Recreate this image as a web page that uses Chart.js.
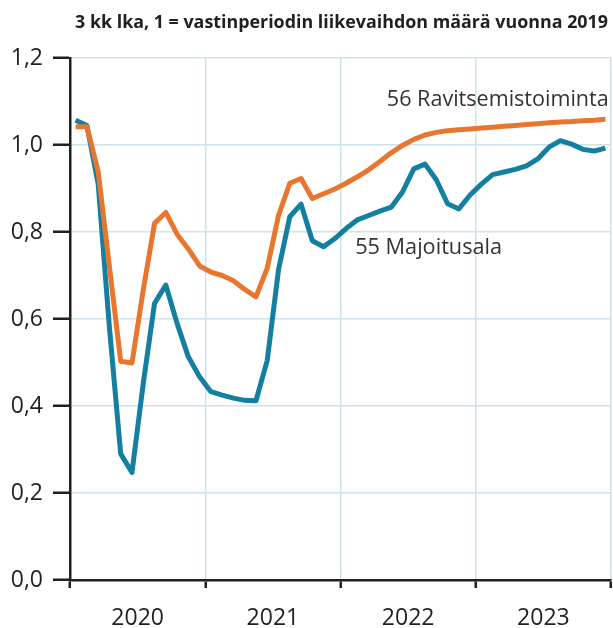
<!DOCTYPE html>
<html>
<head>
<meta charset="utf-8">
<script src="https://cdn.jsdelivr.net/npm/chart.js@4/dist/chart.umd.min.js"></script>
<style>
  html, body { margin: 0; padding: 0; background: #fff; }
  #wrap { width: 613px; height: 628px; position: relative; }
</style>
</head>
<body>
<div id="wrap"><canvas id="c" width="613" height="628"></canvas></div>
<script>
const titleText = "3 kk lka, 1 = vastinperiodin liikevaihdon määrä vuonna 2019";
const years = ["2020", "2021", "2022", "2023"];
const yTicks = [0, 0.2, 0.4, 0.6, 0.8, 1.0, 1.2];
const seriesNames = ["56 Ravitsemistoiminta", "55 Majoitusala"];

// Monthly values Jan 2020 – Dec 2023 (48 months)
const ravitsemis = [1.042, 1.042, 0.939, 0.720, 0.503, 0.499, 0.667, 0.820, 0.845, 0.795, 0.761, 0.722,
                    0.708, 0.700, 0.688, 0.668, 0.651, 0.717, 0.838, 0.912, 0.923, 0.877, 0.888, 0.899,
                    0.912, 0.927, 0.943, 0.962, 0.982, 0.999, 1.013, 1.023, 1.029, 1.033, 1.035, 1.037,
                    1.039, 1.041, 1.043, 1.045, 1.047, 1.049, 1.051, 1.053, 1.054, 1.056, 1.057, 1.059];
const majoitus   = [1.057, 1.045, 0.910, 0.580, 0.290, 0.247, 0.452, 0.636, 0.678, 0.590, 0.513, 0.467,
                    0.433, 0.425, 0.418, 0.413, 0.412, 0.505, 0.713, 0.835, 0.864, 0.780, 0.766, 0.785,
                    0.808, 0.828, 0.838, 0.848, 0.857, 0.892, 0.945, 0.956, 0.920, 0.865, 0.853, 0.885,
                    0.910, 0.932, 0.938, 0.944, 0.952, 0.968, 0.995, 1.010, 1.002, 0.990, 0.986, 0.993];

const toPoints = arr => arr.map((v, i) => ({ x: i + 0.5, y: v }));

const FONT = "'Open Sans', sans-serif";
const GRID = '#cde3ec';
const AXIS = '#231f20';
const TXT = '#231f20';

function fitFont(ctx, text, weight, target) {
  ctx.font = weight + " 20px " + FONT;
  const w = ctx.measureText(text).width;
  const size = 20 * target / w;
  ctx.font = weight + " " + size.toFixed(2) + "px " + FONT;
}

const overlay = {
  id: 'overlay',
  afterDraw(chart) {
    const { ctx, scales } = chart;
    ctx.save();
    ctx.fillStyle = TXT;
    ctx.textBaseline = 'middle';
    ctx.textAlign = 'right';
    fitFont(ctx, titleText, 'bold', 533);
    ctx.fillText(titleText, 608, 23);
    ctx.fillStyle = '#333';
    fitFont(ctx, seriesNames[0], 'normal', 222);
    ctx.fillText(seriesNames[0], scales.x.getPixelForValue(47.8), scales.y.getPixelForValue(1.103));
    ctx.textAlign = 'left';
    fitFont(ctx, seriesNames[1], 'normal', 147);
    ctx.fillText(seriesNames[1], scales.x.getPixelForValue(25.3), scales.y.getPixelForValue(0.763));
    ctx.restore();
  }
};

new Chart(document.getElementById('c'), {
  type: 'line',
  data: {
    datasets: [
      { label: seriesNames[0], data: toPoints(ravitsemis), borderColor: '#e8762f', borderWidth: 5,
        pointRadius: 0, tension: 0, borderJoinStyle: 'round', borderCapStyle: 'butt' },
      { label: seriesNames[1], data: toPoints(majoitus), borderColor: '#137fa1', borderWidth: 5,
        pointRadius: 0, tension: 0, borderJoinStyle: 'round', borderCapStyle: 'butt' }
    ]
  },
  options: {
    responsive: false,
    animation: false,
    events: [],
    layout: { padding: { top: 58, right: 2, left: 0, bottom: 0 } },
    plugins: { legend: { display: false }, tooltip: { enabled: false }, title: { display: false } },
    scales: {
      x: {
        type: 'linear', min: 0, max: 48,
        afterFit(s) { s.height = 48; s.paddingLeft = 0; s.paddingRight = 0; },
        afterBuildTicks(s) { s.ticks = []; for (let v = 0; v <= 48; v += 6) s.ticks.push({ value: v }); },
        ticks: {
          autoSkip: false, maxRotation: 0, padding: 17,
          color: TXT, font: { size: 23, family: FONT },
          callback(v) { return (v % 12 === 6) ? years[(v - 6) / 12] : ''; }
        },
        grid: {
          color: c => (c.tick && c.tick.value % 12 === 0) ? GRID : 'rgba(0,0,0,0)',
          tickColor: c => (c.tick && c.tick.value % 12 === 0) ? AXIS : 'rgba(0,0,0,0)',
          lineWidth: 1.5, tickLength: 8, tickWidth: 2.5
        },
        border: { display: true, color: AXIS, width: 2.5 }
      },
      y: {
        min: 0, max: 1.2,
        afterFit(s) { s.width = 70; s.paddingTop = 0; s.paddingBottom = 0; },
        afterBuildTicks(s) { s.ticks = yTicks.map(v => ({ value: v })); },
        ticks: {
          padding: 10, color: TXT, font: { size: 23, family: FONT },
          callback(v) { return v.toFixed(1).replace('.', ','); }
        },
        grid: { color: GRID, tickColor: AXIS, lineWidth: 1.5, tickLength: 17, tickWidth: 2.5 },
        border: { display: true, color: AXIS, width: 2.5 }
      }
    }
  },
  plugins: [overlay]
});
</script>
</body>
</html>
